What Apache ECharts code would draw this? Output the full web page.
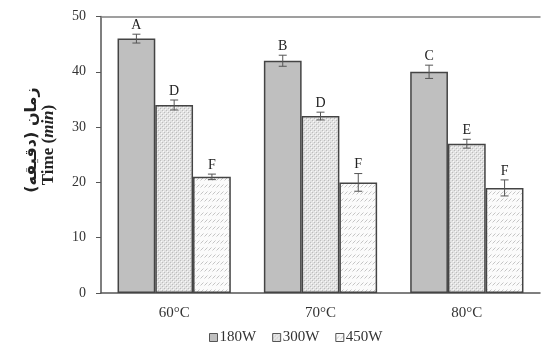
<!DOCTYPE html>
<html>
<head>
<meta charset="utf-8">
<script src="https://cdn.jsdelivr.net/npm/echarts@6/dist/echarts.min.js"></script>
<style>
  html, body { margin: 0; padding: 0; background: #fff; }
  #chart { width: 545px; height: 345px; }
</style>
</head>
<body>
<div id="chart"></div>
<script>
  // data
  var categories = ['60°C', '70°C', '80°C'];
  var seriesNames = ['180W', '300W', '450W'];
  var time180 = [46, 42, 40];
  var time300 = [34, 32, 27];
  var time450 = [21, 20, 19];
  var err180 = [0.8, 1.0, 1.2];
  var err300 = [0.9, 0.7, 0.8];
  var err450 = [0.5, 1.6, 1.45];
  var letters180 = ['A', 'B', 'C'];
  var letters300 = ['D', 'D', 'E'];
  var letters450 = ['F', 'F', 'F'];
  var yTicks = [0, 10, 20, 30, 40, 50];

  var catGap = 0.226;
  var serif = '"Liberation Serif", "DejaVu Serif", serif';

  // fill patterns
  function dotPattern() {
    var c = document.createElement('canvas');
    c.width = 4; c.height = 4;
    var ctx = c.getContext('2d');
    ctx.fillStyle = '#e2e2e2';
    ctx.fillRect(0, 0, 4, 4);
    ctx.fillStyle = '#bcbcbc';
    ctx.fillRect(0, 0, 1, 1);
    ctx.fillRect(2, 2, 1, 1);
    ctx.fillStyle = '#f8f8f8';
    ctx.fillRect(1, 1, 1, 1);
    ctx.fillRect(3, 3, 1, 1);
    return c;
  }
  function hatchPattern() {
    var c = document.createElement('canvas');
    c.width = 4; c.height = 7;
    var ctx = c.getContext('2d');
    ctx.fillStyle = '#fbfbfb';
    ctx.fillRect(0, 0, 4, 7);
    ctx.strokeStyle = '#c4c4c4';
    ctx.lineWidth = 1;
    ctx.beginPath();
    ctx.moveTo(0.5, 5.5);
    ctx.lineTo(3.5, 2.5);
    ctx.stroke();
    return c;
  }

  var fills = [
    '#bfbfbf',
    { image: dotPattern(), repeat: 'repeat' },
    { image: hatchPattern(), repeat: 'repeat' }
  ];
  var values = [time180, time300, time450];
  var errs = [err180, err300, err450];
  var letters = [letters180, letters300, letters450];

  function errSeries(s) {
    return {
      type: 'custom',
      name: 'err' + s,
      silent: true,
      z: 5,
      data: values[s].map(function (v, i) { return [i, v, errs[s][i]]; }),
      renderItem: function (params, api) {
        var cat = api.value(0), v = api.value(1), e = api.value(2);
        var band = api.size([1, 0])[0];
        var barW = band * (1 - catGap) / 3;
        var x = api.coord([cat, v])[0] + (s - 1) * barW;
        var yTop = api.coord([cat, v + e])[1];
        var yBot = api.coord([cat, v - e])[1];
        var cap = 4;
        var st = { stroke: '#555', lineWidth: 1 };
        return {
          type: 'group',
          children: [
            { type: 'line', shape: { x1: x, y1: yTop, x2: x, y2: yBot }, style: st },
            { type: 'line', shape: { x1: x - cap, y1: yTop, x2: x + cap, y2: yTop }, style: st },
            { type: 'line', shape: { x1: x - cap, y1: yBot, x2: x + cap, y2: yBot }, style: st },
            {
              type: 'text',
              style: {
                x: x, y: yTop - 2,
                text: letters[s][params.dataIndex],
                align: 'center', verticalAlign: 'bottom',
                font: '14px ' + serif, fill: '#222'
              }
            }
          ]
        };
      }
    };
  }

  var series = [];
  seriesNames.forEach(function (name, s) {
    series.push({
      name: name,
      type: 'bar',
      data: values[s],
      barGap: '0%',
      barCategoryGap: (catGap * 100) + '%',
      itemStyle: { color: fills[s], borderColor: '#444', borderWidth: 1.5 },
      emphasis: { disabled: true }
    });
  });
  for (var s = 0; s < 3; s++) series.push(errSeries(s));

  var option = {
    animation: false,
    backgroundColor: '#fff',
    grid: { left: 101, right: 5, top: 16.5, bottom: 52 },
    legend: {
      data: seriesNames,
      left: 204, top: 325,
      itemWidth: 8, itemHeight: 8, itemGap: 16,
      icon: 'rect',
      textStyle: { fontFamily: serif, fontSize: 15, color: '#333', padding: [0, 0, 0, -3] },
      itemStyle: { borderColor: '#555', borderWidth: 1 }
    },
    xAxis: [{
      type: 'category',
      data: categories,
      axisLine: { lineStyle: { color: '#555', width: 1.5 } },
      axisTick: { show: false },
      axisLabel: { fontFamily: serif, fontSize: 15, color: '#333', margin: 13 }
    }, {
      type: 'category',
      position: 'top',
      data: categories,
      axisLine: { lineStyle: { color: '#808080', width: 1.5 } },
      axisTick: { show: false },
      axisLabel: { show: false }
    }],
    yAxis: {
      type: 'value',
      min: yTicks[0], max: yTicks[yTicks.length - 1], interval: 10,
      splitLine: { show: false },
      axisLine: { show: true, lineStyle: { color: '#555', width: 1.5 } },
      axisTick: { show: true, length: 5, lineStyle: { color: '#555' } },
      axisLabel: { fontFamily: serif, fontSize: 14, color: '#333', margin: 15 }
    },
    graphic: [{
      type: 'text',
      x: 32, y: 140,
      rotation: Math.PI / 2,
      style: {
        text: 'زمان (دقیقه)',
        font: 'bold 16px "DejaVu Sans", sans-serif',
        fill: '#222', align: 'center', verticalAlign: 'middle'
      }
    }, {
      type: 'text',
      x: 49, y: 145,
      rotation: Math.PI / 2,
      style: {
        text: '{a|Time (}{b|min}{a|)}',
        align: 'center', verticalAlign: 'middle',
        rich: {
          a: { font: 'bold 17px ' + serif, fill: '#222' },
          b: { font: 'italic bold 17px ' + serif, fill: '#222' }
        }
      }
    }],
    series: series
  };

  var chart = echarts.init(document.getElementById('chart'));
  chart.setOption(option);
</script>
</body>
</html>
